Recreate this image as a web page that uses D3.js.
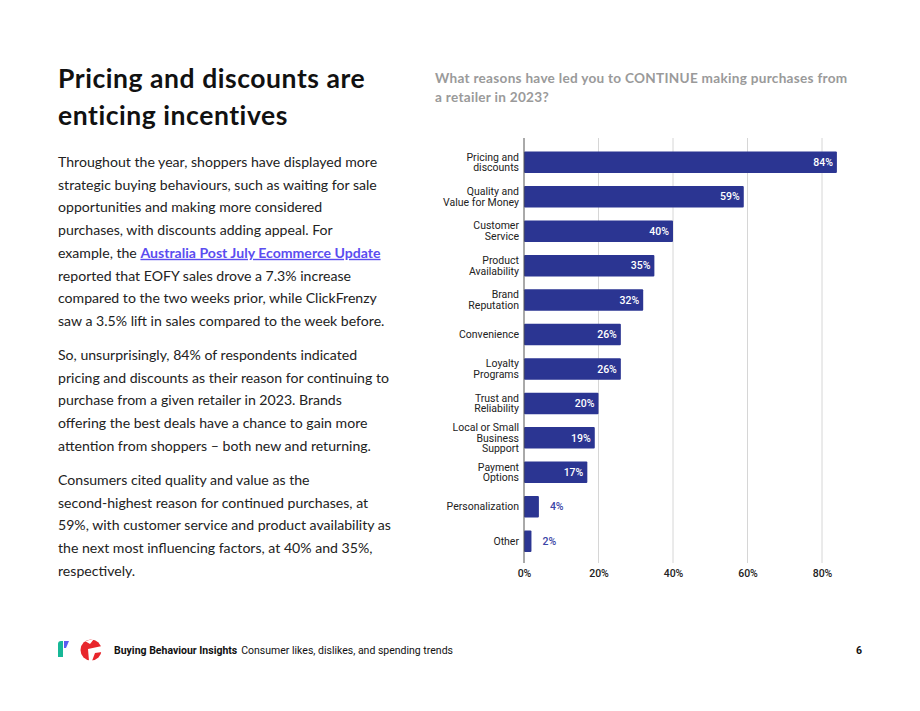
<!DOCTYPE html>
<html>
<head>
<meta charset="utf-8">
<script src="https://cdn.jsdelivr.net/npm/d3@7"></script>
<style>
  html, body { margin: 0; padding: 0; background: #fff; }
  svg text.page { font-family: Lato, "Open Sans", sans-serif; }
  svg text.chart, svg .chart text { font-family: Roboto, sans-serif; }
</style>
</head>
<body>
<div id="page"></div>
<script>
// chart data
const categories = [
  'Pricing and discounts', 'Quality and Value for Money', 'Customer Service',
  'Product Availability', 'Brand Reputation', 'Convenience', 'Loyalty Programs',
  'Trust and Reliability', 'Local or Small Business Support', 'Payment Options',
  'Personalization', 'Other'
];
// how each category label is broken on the axis
const categoryLines = [
  ['Pricing and', 'discounts'], ['Quality and', 'Value for Money'], ['Customer', 'Service'],
  ['Product', 'Availability'], ['Brand', 'Reputation'], ['Convenience'], ['Loyalty', 'Programs'],
  ['Trust and', 'Reliability'], ['Local or Small', 'Business', 'Support'], ['Payment', 'Options'],
  ['Personalization'], ['Other']
];
const values = [84, 59, 40, 35, 32, 26, 26, 20, 19, 17, 4, 2];
const xTicks = [0, 20, 40, 60, 80];

// page text
const titleLines = ['Pricing and discounts are', 'enticing incentives'];
const chartTitleLines = ['What reasons have led you to CONTINUE making purchases from', 'a retailer in 2023?'];
const paragraphs = [
  [
    'Throughout the year, shoppers have displayed more',
    'strategic buying behaviours, such as waiting for sale',
    'opportunities and making more considered',
    'purchases, with discounts adding appeal. For',
    '@example, the ',
    'reported that EOFY sales drove a 7.3% increase',
    'compared to the two weeks prior, while ClickFrenzy',
    'saw a 3.5% lift in sales compared to the week before.'
  ],
  [
    'So, unsurprisingly, 84% of respondents indicated',
    'pricing and discounts as their reason for continuing to',
    'purchase from a given retailer in 2023. Brands',
    'offering the best deals have a chance to gain more',
    'attention from shoppers \u2013 both new and returning.'
  ],
  [
    'Consumers cited quality and value as the',
    'second-highest reason for continued purchases, at',
    '59%, with customer service and product availability as',
    'the next most influencing factors, at 40% and 35%,',
    'respectively.'
  ]
];
const linkText = 'Australia Post July Ecommerce Update';

const W = 920, H = 711;
const svg = d3.select('#page').append('svg')
    .attr('width', W)
    .attr('height', H);

// heading
svg.append('g').selectAll('text')
    .data(titleLines)
    .join('text')
    .attr('class', 'page')
    .attr('x', 58)
    .attr('y', (d, i) => 88 + i * 37)
    .attr('font-size', 26.5)
    .attr('letter-spacing', 0.55)
    .attr('font-weight', 700)
    .attr('fill', '#111')
    .text((d) => d);

// body paragraphs
const body = svg.append('g')
    .attr('font-size', 14.1)
    .attr('fill', '#222');
const paraTop = [167, 360, 485];
const lineH = 22.7;
paragraphs.forEach((lines, p) => {
  lines.forEach((line, i) => {
    const t = body.append('text')
        .attr('class', 'page')
        .attr('x', 58)
        .attr('y', paraTop[p] + i * lineH);
    if (line.startsWith('@')) {
      t.append('tspan').text(line.slice(1));
      t.append('tspan')
          .attr('fill', '#5b4df0')
          .attr('font-weight', 700)
          .attr('text-decoration', 'underline')
          .text(linkText);
    } else {
      t.text(line);
    }
  });
});

// chart title
svg.append('g').selectAll('text')
    .data(chartTitleLines)
    .join('text')
    .attr('class', 'page')
    .attr('x', 435)
    .attr('y', (d, i) => 83 + i * 19)
    .attr('font-size', 13.6)
    .attr('letter-spacing', 0.28)
    .attr('font-weight', 700)
    .attr('fill', '#9a9a9a')
    .text((d) => d);

// bar chart
const x = d3.scaleLinear()
    .domain([0, 80])
    .range([524, 822]);

const y = d3.scaleBand()
    .domain(categories)
    .range([145, 558.5])
    .paddingInner(0.375)
    .paddingOuter(0.19);

const chart = svg.append('g')
    .attr('class', 'chart');

// gridlines
chart.append('g')
    .selectAll('line')
    .data(xTicks.slice(1))
    .join('line')
    .attr('x1', (d) => x(d))
    .attr('x2', (d) => x(d))
    .attr('y1', 138)
    .attr('y2', 563)
    .attr('stroke', '#d6d6d6')
    .attr('stroke-width', 1);

// x axis labels
const xAxis = chart.append('g')
    .attr('transform', 'translate(0,563)')
    .call(d3.axisBottom(x).tickValues(xTicks).tickFormat((d) => d + '%').tickSize(0).tickPadding(7));
xAxis.select('.domain').remove();
xAxis.selectAll('text')
    .attr('font-size', 10.5)
    .attr('font-weight', 500)
    .attr('fill', '#222');

// bars
chart.append('g')
    .selectAll('rect')
    .data(values)
    .join('rect')
    .attr('x', x(0))
    .attr('y', (d, i) => y(categories[i]))
    .attr('width', (d) => x(d) - x(0))
    .attr('height', y.bandwidth())
    .attr('rx', 1)
    .attr('fill', '#2b3592');

// baseline
chart.append('line')
    .attr('x1', x(0))
    .attr('x2', x(0))
    .attr('y1', 138)
    .attr('y2', 563)
    .attr('stroke', '#555')
    .attr('stroke-width', 1);

// value labels
const fmt = (d) => d3.format('d')(d) + '%';
chart.append('g')
    .selectAll('text')
    .data(values)
    .join('text')
    .attr('x', (d) => d >= 10 ? x(d) - 4 : x(d) + 11)
    .attr('y', (d, i) => y(categories[i]) + y.bandwidth() / 2)
    .attr('dy', '0.35em')
    .attr('text-anchor', (d) => d >= 10 ? 'end' : 'start')
    .attr('font-size', 10.5)
    .attr('font-weight', 500)
    .attr('fill', (d) => d >= 10 ? '#fff' : '#3a45a6')
    .text(fmt);

// category labels
const catSize = 10.5;
const catG = chart.append('g')
    .selectAll('text')
    .data(categories)
    .join('text')
    .attr('text-anchor', 'end')
    .attr('font-size', catSize)
    .attr('fill', '#222')
    .attr('y', (d) => y(d) + y.bandwidth() / 2);
catG.each(function(d, i) {
  const lines = categoryLines[i];
  const lh = 10.8;
  d3.select(this).selectAll('tspan')
      .data(lines)
      .join('tspan')
      .attr('x', 519)
      .attr('dy', (l, j) => j === 0 ? (0.35 * catSize - (lines.length - 1) * lh / 2) : lh)
      .text((l) => l);
});

// footer
const foot = svg.append('g');
foot.append('path')
    .attr('d', 'M58,644 Q58,641 61,641 L63,641 L63,657 L58,657 Z')
    .attr('fill', '#17b897');
foot.append('path')
    .attr('d', 'M64,641 L69,641 L66,648 L64,648 Z')
    .attr('fill', '#5a5cf0');
const logo = foot.append('g')
    .attr('transform', 'translate(91,650)');
logo.append('circle')
    .attr('r', 10.5)
    .attr('fill', '#e8262c');
// white notch that makes the G
logo.append('path')
    .attr('d', 'M-3,-1 L11,-4 L11,2 L4,3 L1,11 L-2,11 Z')
    .attr('fill', '#fff');
logo.append('path')
    .attr('d', 'M-6,-9 L3,-11 L-1,-6 Z')
    .attr('fill', '#fff');
foot.append('text')
    .attr('class', 'chart')
    .attr('x', 114)
    .attr('y', 654)
    .attr('font-size', 10.5)
    .attr('fill', '#111')
    .call((t) => {
      t.append('tspan').attr('font-weight', 700).text('Buying Behaviour Insights');
      t.append('tspan').attr('dx', 4).text('Consumer likes, dislikes, and spending trends');
    });
foot.append('text')
    .attr('class', 'chart')
    .attr('x', 862)
    .attr('y', 654)
    .attr('text-anchor', 'end')
    .attr('font-size', 10.5)
    .attr('font-weight', 700)
    .attr('fill', '#111')
    .text('6');
</script>
</body>
</html>
